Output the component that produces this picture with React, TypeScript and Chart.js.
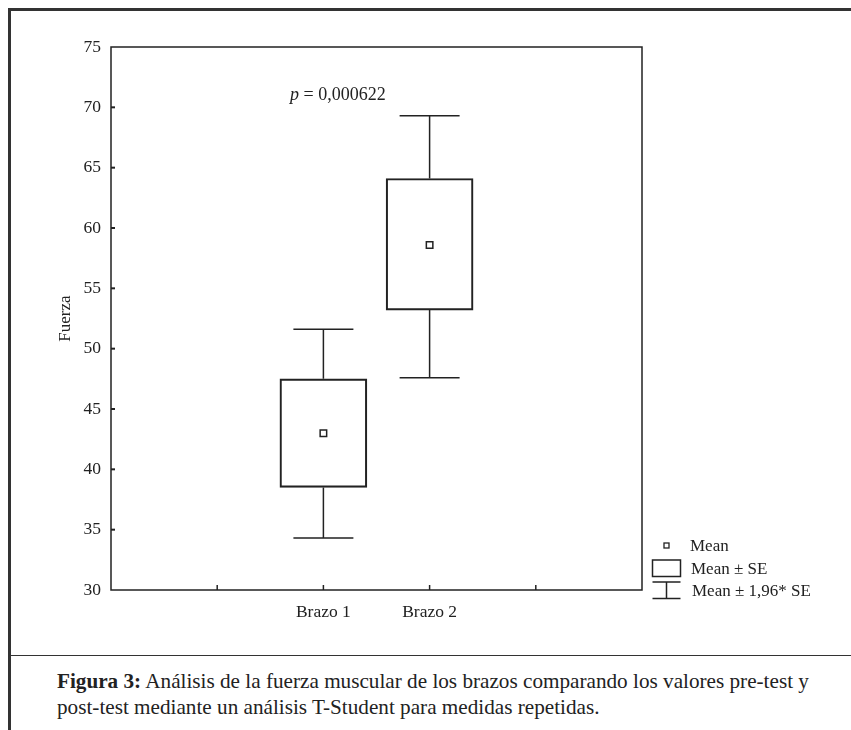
import React, { useEffect, useRef } from 'react';
import { Chart, registerables } from 'chart.js';

Chart.register(...registerables);

// ---- data ----
const categories = ['Brazo 1', 'Brazo 2'];
const means = [43.0, 58.6];
const seLow = [38.5, 53.2];
const seHigh = [47.5, 64.1];
const ciLow = [34.3, 47.6];
const ciHigh = [51.6, 69.3];
const yMin = 30;
const yMax = 75;
const yStep = 5;
const pText = '0,000622';
const legendLabels = ['Mean', 'Mean \u00B1 SE', 'Mean \u00B1 1,96* SE'];
const yTitle = 'Fuerza';

const INK = '#222';
const FONT = '"Liberation Serif", "Times New Roman", serif';

const decorPlugin = {
  id: 'decor',
  afterDraw(chart: any) {
    const { ctx, chartArea } = chart;
    const xs = chart.scales.x;
    const ys = chart.scales.y;
    const { left, right, top, bottom } = chartArea;
    ctx.save();
    ctx.strokeStyle = INK;
    ctx.fillStyle = INK;
    ctx.lineCap = 'butt';

    // plot frame
    ctx.lineWidth = 1.5;
    ctx.strokeRect(left, top, right - left, bottom - top);

    // inward y ticks
    ctx.lineWidth = 2;
    ys.ticks.forEach((t: any) => {
      if (t.value <= ys.min || t.value >= ys.max) return;
      const y = ys.getPixelForValue(t.value);
      ctx.beginPath();
      ctx.moveTo(left, y);
      ctx.lineTo(left + 4, y);
      ctx.stroke();
    });
    // inward x ticks
    ctx.lineWidth = 1.5;
    xs.ticks.forEach((t: any) => {
      if (t.value <= xs.min || t.value >= xs.max) return;
      const x = xs.getPixelForValue(t.value);
      ctx.beginPath();
      ctx.moveTo(x, bottom);
      ctx.lineTo(x, bottom - 5);
      ctx.stroke();
    });

    // whiskers
    const capHalf = 30;
    ctx.lineWidth = 1.5;
    categories.forEach((_, i) => {
      const x = xs.getPixelForValue(i);
      const pairs: [number, number][] = [
        [seHigh[i], ciHigh[i]],
        [seLow[i], ciLow[i]],
      ];
      pairs.forEach(([a, b]) => {
        const ya = ys.getPixelForValue(a);
        const yb = ys.getPixelForValue(b);
        ctx.beginPath();
        ctx.moveTo(x, ya);
        ctx.lineTo(x, yb);
        ctx.moveTo(x - capHalf, yb);
        ctx.lineTo(x + capHalf, yb);
        ctx.stroke();
      });
    });

    // p-value annotation
    ctx.textBaseline = 'middle';
    ctx.textAlign = 'left';
    ctx.font = `italic 18px ${FONT}`;
    const px = 290;
    const py = 95;
    ctx.fillText('p', px, py);
    const pw = ctx.measureText('p').width;
    ctx.font = `18px ${FONT}`;
    ctx.fillText(' = ' + pText, px + pw, py);

    // legend
    ctx.font = `17px ${FONT}`;
    const lx = 652.5;
    const lw = 28;
    const cx = lx + lw / 2;
    // mean marker
    ctx.lineWidth = 1.3;
    ctx.fillStyle = '#fff';
    ctx.fillRect(cx - 2.5, 543, 5, 5);
    ctx.strokeRect(cx - 2.5, 543, 5, 5);
    ctx.fillStyle = INK;
    ctx.fillText(legendLabels[0], 690, 547);
    // box
    ctx.lineWidth = 1.5;
    ctx.strokeRect(lx, 560, lw, 16.5);
    ctx.fillText(legendLabels[1], 691, 570);
    // whisker
    ctx.beginPath();
    ctx.moveTo(lx, 582);
    ctx.lineTo(lx + lw, 582);
    ctx.moveTo(cx, 582);
    ctx.lineTo(cx, 598.5);
    ctx.moveTo(lx, 598.5);
    ctx.lineTo(lx + lw, 598.5);
    ctx.stroke();
    ctx.fillText(legendLabels[2], 692, 592);

    ctx.restore();
  },
};

export default function App() {
  const ref = useRef<HTMLCanvasElement | null>(null);

  useEffect(() => {
    if (!ref.current) return;
    const chart = new Chart(ref.current, {
      type: 'bar',
      data: {
        datasets: [
          {
            type: 'bar',
            data: categories.map((_, i) => ({ x: i, y: [seLow[i], seHigh[i]] })) as any,
            backgroundColor: 'rgba(255,255,255,0)',
            borderColor: INK,
            borderWidth: 1.5,
            borderSkipped: false,
            barThickness: 87,
          } as any,
          {
            type: 'scatter',
            data: categories.map((_, i) => ({ x: i, y: means[i] })),
            pointStyle: 'rect',
            pointRadius: 4.6,
            pointBackgroundColor: '#fff',
            pointBorderColor: INK,
            pointBorderWidth: 1.5,
          } as any,
        ],
      },
      options: {
        animation: false,
        responsive: false,
        events: [],
        layout: { padding: { left: 0, right: 209, top: 47, bottom: 0 } },
        plugins: { legend: { display: false }, tooltip: { enabled: false } },
        scales: {
          x: {
            type: 'linear',
            offset: false,
            min: -2,
            max: 3,
            grid: { display: false, drawTicks: false },
            border: { display: false },
            ticks: {
              stepSize: 1,
              padding: 12,
              autoSkip: false,
              maxRotation: 0,
              color: INK,
              font: { family: FONT, size: 17.5 },
              callback: (v: any) => categories[v as number] ?? '',
            },
            afterFit: (s: any) => {
              s.height = 60;
            },
          },
          y: {
            min: yMin,
            max: yMax,
            grid: { display: false, drawTicks: false },
            border: { display: false },
            ticks: {
              stepSize: yStep,
              padding: 10,
              color: INK,
              font: { family: FONT, size: 17.5 },
            },
            title: {
              display: true,
              text: yTitle,
              color: INK,
              font: { family: FONT, size: 17 },
              padding: { top: 55.8, bottom: 0 },
            },
            afterFit: (s: any) => {
              s.width = 111;
            },
          },
        },
      },
      plugins: [decorPlugin],
    });
    return () => chart.destroy();
  }, []);

  return (
    <div
      style={{
        position: 'fixed',
        left: 0,
        top: 0,
        width: 851,
        height: 730,
        overflow: 'hidden',
        background: '#fff',
      }}
    >
      <canvas
        ref={ref}
        width={851}
        height={650}
        style={{ position: 'absolute', left: 0, top: 0, width: 851, height: 650 }}
      />
      <div style={{ position: 'absolute', left: 8, top: 8, width: 843, height: 3, background: '#333' }} />
      <div style={{ position: 'absolute', left: 8, top: 8, width: 3, height: 722, background: '#333' }} />
      <div style={{ position: 'absolute', left: 11, top: 655, width: 840, height: 1, background: '#333' }} />
      <div
        style={{
          position: 'absolute',
          left: 57,
          top: 668,
          fontFamily: FONT,
          fontSize: 21.2,
          lineHeight: '26px',
          color: INK,
          whiteSpace: 'nowrap',
        }}
      >
        <b>Figura 3:</b> Análisis de la fuerza muscular de los brazos comparando los valores pre-test y
        <br />
        post-test mediante un análisis T-Student para medidas repetidas.
      </div>
    </div>
  );
}
